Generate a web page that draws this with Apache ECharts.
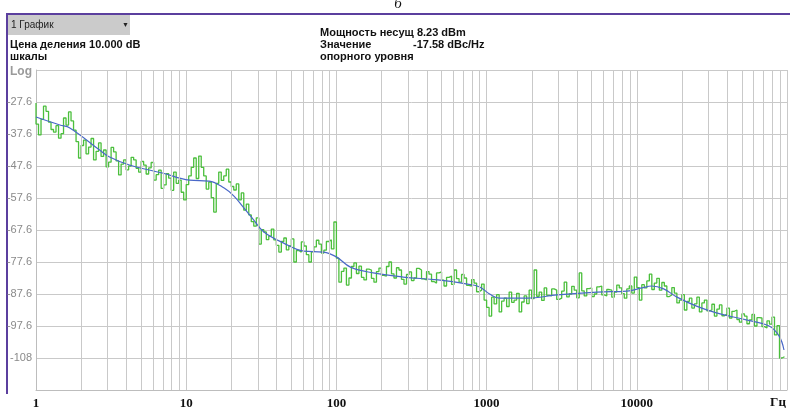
<!DOCTYPE html>
<html>
<head>
<meta charset="utf-8">
<script src="https://cdn.jsdelivr.net/npm/echarts@6/dist/echarts.min.js"></script>
<style>
  html, body { margin: 0; padding: 0; background: #ffffff; }
  #chart { width: 790px; height: 412px; }
</style>
</head>
<body>
<div id="chart"></div>
<script>
// Sweep frequencies of the measured trace, Hz (60 points per decade)
const sweepFreq = [
  1, 1.039, 1.08, 1.122, 1.166, 1.212, 1.259, 1.308, 1.359, 1.413, 1.468, 1.525, 1.585, 1.647, 1.711, 1.778, 1.848, 1.92, 1.995, 2.073,
  2.154, 2.239, 2.326, 2.417, 2.512, 2.61, 2.712, 2.818, 2.929, 3.043, 3.162, 3.286, 3.415, 3.548, 3.687, 3.831, 3.981, 4.137, 4.299, 4.467,
  4.642, 4.823, 5.012, 5.208, 5.412, 5.623, 5.843, 6.072, 6.31, 6.556, 6.813, 7.079, 7.356, 7.644, 7.943, 8.254, 8.577, 8.913, 9.261, 9.624,
  10, 10.39, 10.8, 11.22, 11.66, 12.12, 12.59, 13.08, 13.59, 14.13, 14.68, 15.25, 15.85, 16.47, 17.11, 17.78, 18.48, 19.2, 19.95, 20.73,
  21.54, 22.39, 23.26, 24.17, 25.12, 26.1, 27.12, 28.18, 29.29, 30.43, 31.62, 32.86, 34.15, 35.48, 36.87, 38.31, 39.81, 41.37, 42.99, 44.67,
  46.42, 48.23, 50.12, 52.08, 54.12, 56.23, 58.43, 60.72, 63.1, 65.56, 68.13, 70.79, 73.56, 76.44, 79.43, 82.54, 85.77, 89.13, 92.61, 96.24,
  100, 103.9, 108, 112.2, 116.6, 121.2, 125.9, 130.8, 135.9, 141.3, 146.8, 152.5, 158.5, 164.7, 171.1, 177.8, 184.8, 192, 199.5, 207.3,
  215.4, 223.9, 232.6, 241.7, 251.2, 261, 271.2, 281.8, 292.9, 304.3, 316.2, 328.6, 341.5, 354.8, 368.7, 383.1, 398.1, 413.7, 429.9, 446.7,
  464.2, 482.3, 501.2, 520.8, 541.2, 562.3, 584.3, 607.2, 631, 655.6, 681.3, 707.9, 735.6, 764.4, 794.3, 825.4, 857.7, 891.3, 926.1, 962.4,
  1000, 1039, 1080, 1122, 1166, 1212, 1259, 1308, 1359, 1413, 1468, 1525, 1585, 1647, 1711, 1778, 1848, 1920, 1995, 2073,
  2154, 2239, 2326, 2417, 2512, 2610, 2712, 2818, 2929, 3043, 3162, 3286, 3415, 3548, 3687, 3831, 3981, 4137, 4299, 4467,
  4642, 4823, 5012, 5208, 5412, 5623, 5843, 6072, 6310, 6556, 6813, 7079, 7356, 7644, 7943, 8254, 8577, 8913, 9261, 9624,
  10000, 10390, 10800, 11220, 11660, 12120, 12590, 13080, 13590, 14130, 14680, 15250, 15850, 16470, 17110, 17780, 18480, 19200, 19950, 20730,
  21540, 22390, 23260, 24170, 25120, 26100, 27120, 28180, 29290, 30430, 31620, 32860, 34150, 35480, 36870, 38310, 39810, 41370, 42990, 44670,
  46420, 48230, 50120, 52080, 54120, 56230, 58430, 60720, 63100, 65560, 68130, 70790, 73560, 76440, 79430, 82540, 85770, 89130, 92610, 96240
];

// Measured phase noise, dBc/Hz
const measuredLevel = [
  -27.9, -34.5, -37.9, -33.0, -28.9, -30.5, -33.9, -36.2, -37.0, -35.0, -38.9, -37.5, -32.6, -34.8, -30.7, -33.5, -36.4, -40.0, -45.1, -41.2,
  -39.5, -43.8, -41.7, -39.0, -45.7, -43.0, -40.4, -44.6, -42.6, -47.9, -46.4, -41.8, -43.2, -46.0, -50.4, -47.0, -45.7, -48.8, -47.6, -44.9,
  -45.7, -48.3, -49.5, -46.2, -47.3, -50.1, -48.2, -46.5, -52.0, -50.3, -48.9, -54.6, -53.5, -50.0, -51.4, -55.2, -49.5, -53.0, -52.0, -55.8,
  -58.2, -53.4, -50.7, -48.0, -45.1, -51.5, -44.5, -48.0, -50.7, -54.8, -52.6, -57.5, -62.0, -53.0, -49.5, -52.1, -50.7, -48.6, -52.6, -54.0,
  -55.1, -53.2, -58.2, -56.0, -61.4, -59.5, -62.9, -65.0, -66.4, -63.8, -72.0, -67.5, -68.2, -70.6, -69.5, -67.3, -70.7, -72.4, -74.5, -71.2,
  -70.1, -73.8, -72.6, -70.4, -77.6, -74.0, -74.5, -71.3, -72.6, -75.3, -77.6, -74.4, -72.9, -70.8, -72.0, -74.8, -73.9, -71.2, -70.7, -73.5,
  -65.1, -76.4, -83.9, -80.5, -79.5, -84.8, -82.6, -79.0, -77.9, -81.2, -78.9, -82.4, -83.2, -79.8, -80.1, -82.7, -83.9, -80.6, -79.5, -81.8,
  -82.0, -79.0, -77.6, -81.3, -82.6, -79.4, -80.1, -83.0, -84.5, -81.5, -80.7, -83.4, -82.6, -79.6, -80.1, -82.9, -83.2, -80.6, -81.4, -83.7,
  -84.2, -81.0, -80.7, -83.3, -85.1, -82.4, -82.0, -84.6, -80.1, -82.8, -83.9, -81.5, -82.6, -84.9, -85.1, -83.1, -84.2, -86.9, -86.4, -84.5,
  -89.5, -91.8, -94.5, -88.6, -90.7, -87.8, -93.2, -89.8, -88.9, -91.5, -87.0, -90.2, -89.5, -87.4, -93.2, -90.1, -88.2, -90.6, -86.4, -89.0,
  -80.1, -88.3, -87.0, -89.6, -85.7, -88.0, -88.2, -86.0, -86.4, -89.3, -88.9, -86.7, -83.9, -88.5, -87.6, -85.2, -86.4, -88.8, -81.0, -86.6,
  -88.2, -85.9, -85.7, -88.4, -87.6, -85.4, -85.1, -87.9, -88.2, -86.2, -86.4, -88.6, -87.0, -84.8, -85.7, -87.5, -88.9, -86.0, -85.1, -87.3,
  -82.3, -85.6, -89.5, -84.7, -85.7, -83.5, -81.4, -86.2, -84.2, -82.7, -86.4, -84.0, -85.1, -88.4, -87.9, -85.6, -87.3, -90.4, -89.5, -87.8,
  -92.6, -89.9, -88.9, -92.0, -90.7, -88.6, -93.2, -90.4, -89.5, -92.9, -92.6, -90.8, -94.5, -92.3, -91.0, -94.4, -93.9, -92.0, -95.1, -93.0,
  -92.6, -95.6, -96.4, -93.8, -94.5, -96.9, -95.7, -94.0, -97.6, -95.0, -95.1, -97.8, -98.2, -96.0, -97.0, -94.8, -100.4, -97.5, -107.6, -107.2
];

// Smoothed (averaged) trace
const smoothFreq = [
  1, 1.44, 1.68, 2.65, 3.09, 4.19, 6.94, 10.5, 14.2, 17.9,
  20.8, 24.2, 28.2, 32.9, 44.6, 60.5, 82, 100, 124, 176,
  278, 474, 748, 899, 1047, 1219, 1868, 2953, 5433, 8586,
  10800, 12570, 15100, 18400, 24970, 33870, 53500, 76000, 88500, 95500
];
const smoothLevel = [
  -32.3, -34.8, -35.7, -42.6, -44.8, -47.3, -49.8, -52.0, -52.3, -54.5,
  -57.0, -60.7, -64.5, -68.2, -71.7, -74.2, -74.5, -76.0, -79.2, -81.0,
  -82.3, -83.2, -84.5, -85.4, -87.6, -88.9, -88.9, -87.9, -87.0, -86.7,
  -85.7, -85.1, -86.0, -88.5, -91.4, -93.5, -95.7, -97.6, -100.7, -105.1
];

// Intermediate log grid lines (2..9 within each decade)
const minorGridFreq = [
  2, 3, 4, 5, 6, 7, 8, 9,
  20, 30, 40, 50, 60, 70, 80, 90,
  200, 300, 400, 500, 600, 700, 800, 900,
  2000, 3000, 4000, 5000, 6000, 7000, 8000, 9000,
  20000, 30000, 40000, 50000, 60000, 70000, 80000, 90000
];

// Scale settings shown on the panel
const freqMin = 1, freqMax = 100000;
const levelMin = -117.6, levelMax = -17.6, levelStep = 10;

const sansFont = '"Liberation Sans", Arial, sans-serif';
const serifFont = '"Liberation Serif", "Times New Roman", serif';
const gridColor = '#c9c9c9';

const chart = echarts.init(document.getElementById('chart'), null, { renderer: 'canvas' });

chart.setOption({
  animation: false,
  backgroundColor: '#ffffff',
  grid: { left: 36, top: 70, width: 755, height: 320, containLabel: false },
  xAxis: {
    type: 'log',
    logBase: 10,
    min: freqMin,
    max: freqMax,
    axisLine: { show: true, lineStyle: { color: '#bdbdbd', width: 1 } },
    axisTick: { show: false },
    splitLine: { show: true, lineStyle: { color: gridColor, width: 1 } },
    axisLabel: {
      margin: 7,
      fontFamily: serifFont,
      fontWeight: 'bold',
      fontSize: 13,
      color: '#111',
      formatter: v => (v >= freqMax ? '' : String(Math.round(v)))
    }
  },
  yAxis: {
    type: 'value',
    min: levelMin,
    max: levelMax,
    interval: levelStep,
    axisLine: { show: true, lineStyle: { color: '#bdbdbd', width: 1 } },
    axisTick: { show: false },
    splitLine: { show: true, lineStyle: { color: gridColor, width: 1 } },
    axisLabel: {
      margin: 4,
      fontFamily: sansFont,
      fontSize: 11,
      color: '#8a8a8a',
      showMinLabel: false,
      showMaxLabel: false,
      formatter: v => (Math.abs(v) >= 100 ? String(Math.round(v)) : v.toFixed(1))
    }
  },
  series: [
    {
      name: 'grid',
      type: 'line',
      data: [],
      silent: true,
      z: 1,
      markLine: {
        silent: true,
        symbol: ['none', 'none'],
        label: { show: false },
        lineStyle: { color: gridColor, width: 1, type: 'solid' },
        emphasis: { disabled: true },
        data: minorGridFreq.map(f => ({ xAxis: f }))
      }
    },
    {
      name: 'measured',
      type: 'line',
      step: 'start',
      showSymbol: false,
      symbol: 'none',
      z: 3,
      lineStyle: { color: '#4bbf3c', width: 1.3 },
      data: sweepFreq.map((f, i) => [f, measuredLevel[i]])
    },
    {
      name: 'smoothed',
      type: 'line',
      smooth: 0.4,
      showSymbol: false,
      symbol: 'none',
      z: 4,
      lineStyle: { color: '#4a68c8', width: 1.2 },
      data: smoothFreq.map((f, i) => [f, smoothLevel[i]])
    }
  ],
  graphic: [
    // frame lines of the instrument panel
    { type: 'rect', shape: { x: 6, y: 13, width: 784, height: 2 }, style: { fill: '#5b3f9e' }, silent: true },
    { type: 'rect', shape: { x: 6, y: 13, width: 2, height: 381 }, style: { fill: '#5b3f9e' }, silent: true },
    // trace selector
    { type: 'rect', shape: { x: 8, y: 15, width: 122, height: 20 }, style: { fill: '#cbcbcb' }, silent: true },
    { type: 'text', x: 11, y: 25, style: { text: '1 График', font: '10px ' + sansFont, fill: '#222', textVerticalAlign: 'middle' } },
    { type: 'text', x: 122, y: 25, style: { text: '▼', font: '7px ' + sansFont, fill: '#222', textVerticalAlign: 'middle' } },
    // scale info
    { type: 'text', x: 10, y: 45, style: { text: 'Цена деления 10.000 dB', font: 'bold 11px ' + sansFont, fill: '#111', textVerticalAlign: 'middle' } },
    { type: 'text', x: 10, y: 57, style: { text: 'шкалы', font: 'bold 11px ' + sansFont, fill: '#111', textVerticalAlign: 'middle' } },
    { type: 'text', x: 10, y: 72, style: { text: 'Log', font: 'bold 12px ' + sansFont, fill: '#9a9a9a', textVerticalAlign: 'middle' } },
    // carrier info
    { type: 'text', x: 320, y: 33, style: { text: 'Мощность несущ 8.23 dBm', font: 'bold 11px ' + sansFont, fill: '#111', textVerticalAlign: 'middle' } },
    { type: 'text', x: 320, y: 45, style: { text: 'Значение', font: 'bold 11px ' + sansFont, fill: '#111', textVerticalAlign: 'middle' } },
    { type: 'text', x: 413, y: 45, style: { text: '-17.58 dBc/Hz', font: 'bold 11px ' + sansFont, fill: '#111', textVerticalAlign: 'middle' } },
    { type: 'text', x: 320, y: 57, style: { text: 'опорного уровня', font: 'bold 11px ' + sansFont, fill: '#111', textVerticalAlign: 'middle' } },
    // panel letter
    { type: 'text', x: 398, y: 4, style: { text: 'б', font: 'italic 15px ' + serifFont, fill: '#111', textAlign: 'center', textVerticalAlign: 'middle' } },
    // frequency unit
    { type: 'text', x: 778, y: 403, style: { text: 'Гц', font: 'bold 13px ' + serifFont, fill: '#111', textAlign: 'center', textVerticalAlign: 'middle' } }
  ]
});
</script>
</body>
</html>
